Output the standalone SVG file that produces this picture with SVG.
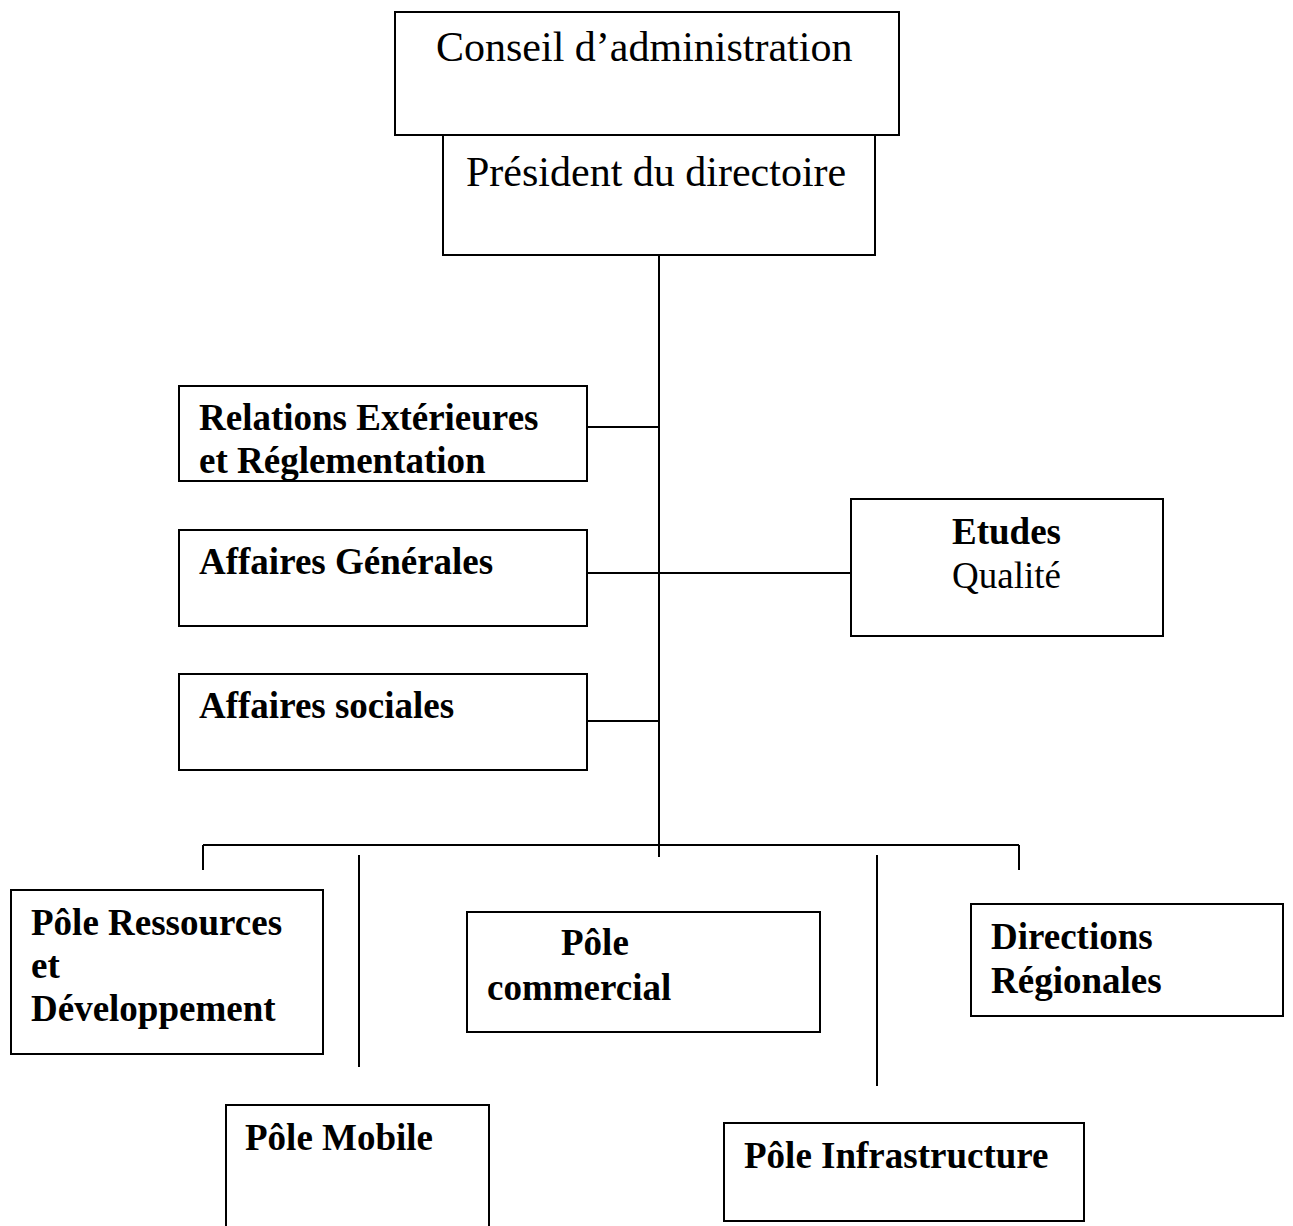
<svg xmlns="http://www.w3.org/2000/svg" width="1293" height="1226" viewBox="0 0 1293 1226">
<style>
.box{fill:#fff;stroke:#000;stroke-width:2}
.ln{stroke:#000;stroke-width:2;fill:none}
.t{font-family:"Liberation Serif","Times New Roman",serif;fill:#000}
.big{font-size:42px}
.b{font-size:37px;font-weight:bold}
.r{font-size:37px}
</style>
<rect width="1293" height="1226" fill="#fff"/>
<g id="connectors">
<line class="ln" x1="659" y1="255" x2="659" y2="857"/>
<line class="ln" x1="587" y1="427" x2="659" y2="427"/>
<line class="ln" x1="587" y1="573" x2="851" y2="573"/>
<line class="ln" x1="587" y1="721" x2="659" y2="721"/>
<line class="ln" x1="203" y1="845" x2="1019" y2="845"/>
<line class="ln" x1="203" y1="845" x2="203" y2="870"/>
<line class="ln" x1="1019" y1="845" x2="1019" y2="870"/>
<line class="ln" x1="359" y1="855" x2="359" y2="1067"/>
<line class="ln" x1="877" y1="855" x2="877" y2="1086"/>
</g>
<g id="conseil">
<rect class="box" x="395" y="12" width="504" height="123"/>
<text class="t big" x="436" y="61">Conseil d’administration</text>
</g>
<g id="president">
<rect class="box" x="443" y="135" width="432" height="120"/>
<text class="t big" x="466" y="186">Président du directoire</text>
</g>
<g id="relations">
<rect class="box" x="179" y="386" width="408" height="95"/>
<text class="t b" x="199" y="430">Relations Extérieures</text>
<text class="t b" x="199" y="473">et Réglementation</text>
</g>
<g id="affaires-generales">
<rect class="box" x="179" y="530" width="408" height="96"/>
<text class="t b" x="199" y="574">Affaires Générales</text>
</g>
<g id="affaires-sociales">
<rect class="box" x="179" y="674" width="408" height="96"/>
<text class="t b" x="199" y="718">Affaires sociales</text>
</g>
<g id="etudes">
<rect class="box" x="851" y="499" width="312" height="137"/>
<text class="t b" x="952" y="544">Etudes</text>
<text class="t r" x="952" y="588">Qualité</text>
</g>
<g id="pole-ressources">
<rect class="box" x="11" y="890" width="312" height="164"/>
<text class="t b" x="31" y="935">Pôle Ressources</text>
<text class="t b" x="31" y="978">et</text>
<text class="t b" x="31" y="1021">Développement</text>
</g>
<g id="pole-commercial">
<rect class="box" x="467" y="912" width="353" height="120"/>
<text class="t b" x="561" y="955">Pôle</text>
<text class="t b" x="487" y="1000">commercial</text>
</g>
<g id="directions-regionales">
<rect class="box" x="971" y="904" width="312" height="112"/>
<text class="t b" x="991" y="949">Directions</text>
<text class="t b" x="991" y="993">Régionales</text>
</g>
<g id="pole-mobile">
<rect class="box" x="226" y="1105" width="263" height="140"/>
<text class="t b" x="245" y="1150">Pôle Mobile</text>
</g>
<g id="pole-infrastructure">
<rect class="box" x="724" y="1123" width="360" height="98"/>
<text class="t b" x="744" y="1168">Pôle Infrastructure</text>
</g>
</svg>
